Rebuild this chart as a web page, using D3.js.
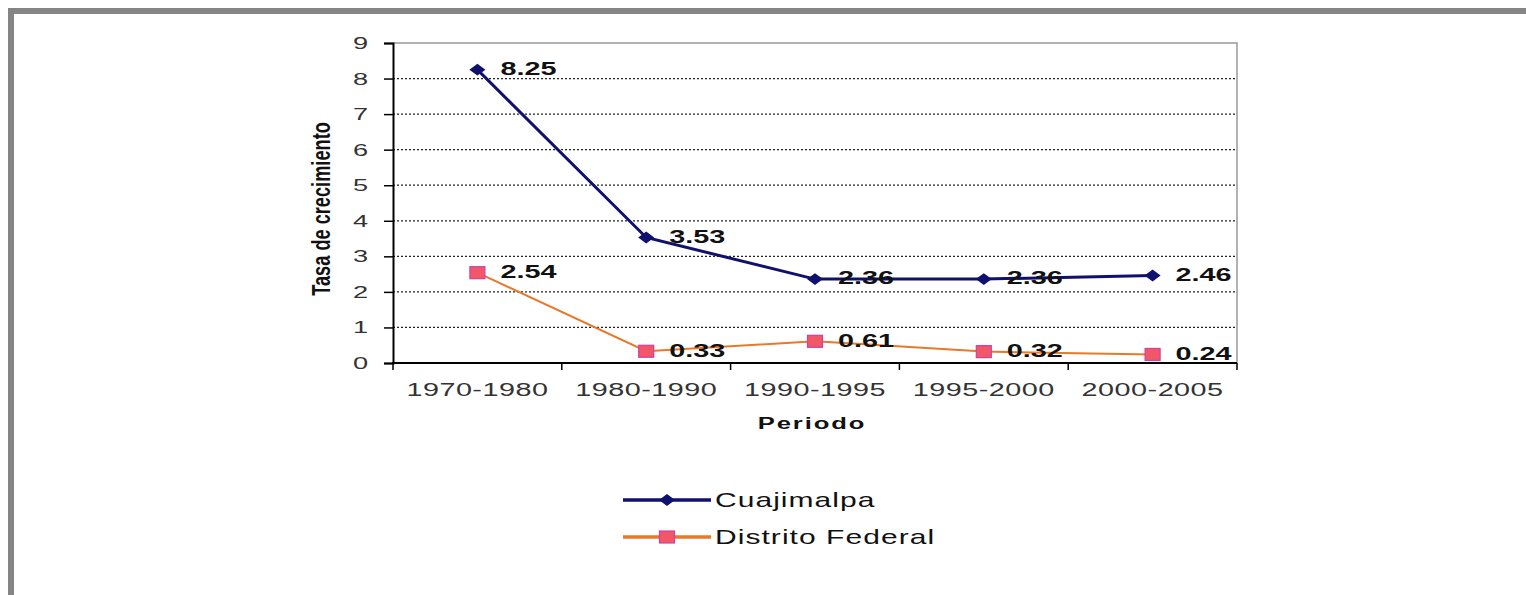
<!DOCTYPE html>
<html>
<head>
<meta charset="utf-8">
<script src="https://cdn.jsdelivr.net/npm/d3@7"></script>
<style>
  body { margin: 0; background: #fff; }
  svg { display: block; }
</style>
</head>
<body>
<svg id="chart" width="1526" height="595"></svg>
<script>
// datos
var periodos = ['1970-1980', '1980-1990', '1990-1995', '1995-2000', '2000-2005'];
var cuajimalpa = [8.25, 3.53, 2.36, 2.36, 2.46];
var distritoFederal = [2.54, 0.33, 0.61, 0.32, 0.24];
var yTicks = [0, 1, 2, 3, 4, 5, 6, 7, 8, 9];

var svg = d3.select('#chart');

// el texto de la imagen original esta ensanchado horizontalmente
var ancho = 1.6;
function ensanchar(sel, sx) {
  sel.attr('transform', function() {
    var tx = +this.getAttribute('x') || 0;
    var ty = +this.getAttribute('y') || 0;
    return 'translate(' + tx + ',' + ty + ') scale(' + sx + ',1)';
  }).attr('x', 0).attr('y', 0);
}

// marco gris
svg.append('rect')
  .attr('x', 11).attr('y', 11)
  .attr('width', 1530).attr('height', 600)
  .attr('fill', 'none')
  .attr('stroke', '#858585')
  .attr('stroke-width', 6);

// area de la grafica
var margin = {top: 43, left: 393, right: 1237, bottom: 363};

var x = d3.scaleBand().domain(periodos).range([margin.left, margin.right]);
var y = d3.scaleLinear().domain([0, 9]).range([margin.bottom, margin.top]);

// borde superior y derecho
svg.append('path')
  .attr('d', 'M' + margin.left + ',' + margin.top + 'H' + margin.right + 'V' + margin.bottom)
  .attr('fill', 'none')
  .attr('stroke', '#999')
  .attr('stroke-width', 1.5);

// lineas de division
svg.append('g').selectAll('line')
  .data(yTicks.filter(function(d) { return d > 0 && d < 9; }))
  .enter().append('line')
  .attr('x1', margin.left).attr('x2', margin.right)
  .attr('y1', function(d) { return y(d); })
  .attr('y2', function(d) { return y(d); })
  .attr('stroke', '#222')
  .attr('stroke-width', 1.3)
  .attr('stroke-dasharray', '2,2');

// eje Y
var yAxis = svg.append('g')
  .attr('transform', 'translate(' + margin.left + ',0)')
  .call(d3.axisLeft(y).tickValues(yTicks).tickSize(9).tickPadding(16).tickFormat(d3.format('d')));
yAxis.select('.domain').attr('stroke', '#000').attr('stroke-width', 2);
yAxis.selectAll('.tick line').attr('stroke', '#000').attr('stroke-width', 1.5);
yAxis.selectAll('.tick text')
  .attr('font-family', 'Liberation Sans, Arial, sans-serif')
  .attr('font-size', 17)
  .attr('fill', '#333')
  .call(ensanchar, ancho);

// eje X
var xAxis = svg.append('g')
  .attr('transform', 'translate(0,' + margin.bottom + ')')
  .call(d3.axisBottom(x).tickSize(0).tickPadding(20));
xAxis.select('.domain').remove();
xAxis.selectAll('.tick text')
  .attr('font-family', 'Liberation Sans, Arial, sans-serif')
  .attr('font-size', 18)
  .attr('letter-spacing', 0.3)
  .attr('fill', '#333')
  .call(ensanchar, ancho);
svg.append('line')
  .attr('x1', margin.left - 1).attr('x2', margin.right)
  .attr('y1', margin.bottom).attr('y2', margin.bottom)
  .attr('stroke', '#000').attr('stroke-width', 2);
// marcas entre categorias
var bordes = periodos.map(function(d) { return x(d); }).concat([margin.right]);
svg.append('g').selectAll('line')
  .data(bordes)
  .enter().append('line')
  .attr('x1', function(d) { return d; }).attr('x2', function(d) { return d; })
  .attr('y1', margin.bottom).attr('y2', margin.bottom + 7)
  .attr('stroke', '#000').attr('stroke-width', 1.5);

// titulos de ejes
svg.append('text')
  .attr('transform', 'translate(330,' + 209 + ') rotate(-90) scale(0.7,1)')
  .attr('text-anchor', 'middle')
  .attr('font-family', 'Liberation Sans, Arial, sans-serif')
  .attr('font-weight', 'bold')
  .attr('font-size', 26)
  .attr('fill', '#111')
  .text('Tasa de crecimiento');

svg.append('text')
  .attr('x', 812)
  .attr('y', 429)
  .attr('text-anchor', 'middle')
  .attr('font-family', 'Liberation Sans, Arial, sans-serif')
  .attr('font-weight', 'bold')
  .attr('font-size', 16)
  .attr('letter-spacing', 1.2)
  .attr('fill', '#111')
  .text('Periodo')
  .call(ensanchar, ancho);

var cx = function(d, i) { return x(periodos[i]) + x.bandwidth() / 2; };
var line = d3.line()
  .x(function(d, i) { return cx(d, i); })
  .y(function(d) { return y(d); });

var colorC = '#10106e';
var colorD = '#e8782a';

// Distrito Federal
svg.append('path')
  .datum(distritoFederal)
  .attr('d', line)
  .attr('fill', 'none')
  .attr('stroke', colorD)
  .attr('stroke-width', 2);

// Cuajimalpa
svg.append('path')
  .datum(cuajimalpa)
  .attr('d', line)
  .attr('fill', 'none')
  .attr('stroke', colorC)
  .attr('stroke-width', 3);

function cuadro(sel) {
  sel.attr('width', 15).attr('height', 12)
    .attr('fill', '#f0586a')
    .attr('stroke', '#d040a0')
    .attr('stroke-width', 1.2);
}
var diamante = d3.symbol().type(d3.symbolDiamond2).size(90);

svg.append('g').selectAll('rect')
  .data(distritoFederal)
  .enter().append('rect')
  .attr('x', function(d, i) { return cx(d, i) - 7.5; })
  .attr('y', function(d) { return y(d) - 6; })
  .call(cuadro);

svg.append('g').selectAll('path')
  .data(cuajimalpa)
  .enter().append('path')
  .attr('d', diamante)
  .attr('transform', function(d, i) { return 'translate(' + cx(d, i) + ',' + y(d) + ') scale(1.35,1)'; })
  .attr('fill', colorC);

// etiquetas de datos
function etiquetas(datos) {
  svg.append('g').selectAll('text')
    .data(datos)
    .enter().append('text')
    .attr('x', function(d, i) { return cx(d, i) + 23; })
    .attr('y', function(d) { return y(d) - 1; })
    .attr('dy', '0.35em')
    .attr('font-family', 'Liberation Sans, Arial, sans-serif')
    .attr('font-weight', 'bold')
    .attr('font-size', 18)
    .attr('fill', '#111')
    .text(function(d) { return d.toFixed(2); })
    .call(ensanchar, ancho);
}
etiquetas(cuajimalpa);
etiquetas(distritoFederal);

// leyenda
var leyenda = [
  {nombre: 'Cuajimalpa', color: colorC, ancho: 3.5, tipo: 'diamante'},
  {nombre: 'Distrito Federal', color: colorD, ancho: 3.5, tipo: 'cuadro'}
];
var lg = svg.append('g').selectAll('g')
  .data(leyenda)
  .enter().append('g')
  .attr('transform', function(d, i) { return 'translate(623,' + (500 + i * 37) + ')'; });
lg.append('line')
  .attr('x1', 0).attr('x2', 88)
  .attr('stroke', function(d) { return d.color; })
  .attr('stroke-width', function(d) { return d.ancho; });
lg.each(function(d) {
  var g = d3.select(this);
  if (d.tipo === 'diamante') {
    g.append('path').attr('d', diamante).attr('transform', 'translate(44,0) scale(1.35,1)').attr('fill', d.color);
  } else {
    g.append('rect').attr('x', 36.5).attr('y', -6).call(cuadro);
  }
});
lg.append('text')
  .attr('x', 92)
  .attr('y', 0)
  .attr('dy', '0.35em')
  .attr('font-family', 'Liberation Sans, Arial, sans-serif')
  .attr('font-size', 20)
  .attr('letter-spacing', 0.7)
  .attr('fill', '#111')
  .text(function(d) { return d.nombre; })
  .call(ensanchar, 1.5);
</script>
</body>
</html>
